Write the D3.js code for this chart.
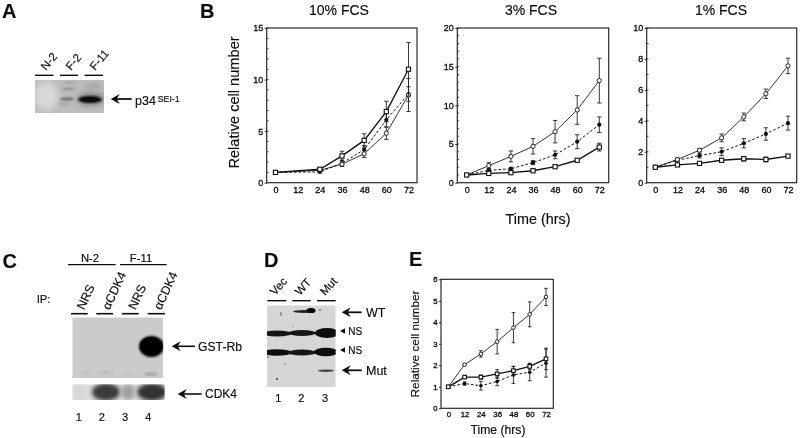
<!DOCTYPE html>
<html><head><meta charset="utf-8">
<script src="https://cdn.jsdelivr.net/npm/d3@7"></script>
<style>
html,body{margin:0;padding:0;background:#fff}
svg{display:block}
text{font-family:"Liberation Sans",Arial,sans-serif;fill:#0a0a0a}
</style></head><body><svg id="c" width="800" height="438"></svg>
<script>
// ---- data ----
const hoursAll = [0,12,24,36,48,60,72];
const hours10 = [0,24,36,48,60,72];
const tickHours = [0,12,24,36,48,60,72];

const fcs10Square = [1,1.3,2.6,4.1,6.9,11.0];
const fcs10SquareErr = [0.05,0.1,0.45,0.65,1.0,2.6];
const fcs10Circle = [1,1.2,1.8,2.8,4.8,8.5];
const fcs10CircleErr = [0.05,0.1,0.2,0.35,0.6,1.6];
const fcs10Filled = [1,1.05,1.9,3.2,6.1,8.6];
const fcs10FilledErr = [0.05,0.1,0.3,0.4,0.7,0.7];

const fcs3Circle = [1,2.2,3.4,4.7,6.6,9.4,13.2];
const fcs3CircleErr = [0.05,0.4,0.7,1.0,1.45,1.85,2.9];
const fcs3Filled = [1,1.6,1.8,2.6,3.6,5.3,7.5];
const fcs3FilledErr = [0.05,0.2,0.2,0.25,0.5,0.9,1.0];
const fcs3Square = [1,1.2,1.3,1.55,2.07,2.9,4.6];
const fcs3SquareErr = [0.05,0.1,0.1,0.1,0.1,0.1,0.5];

const fcs1Circle = [1,1.5,2.1,2.9,4.25,5.75,7.55];
const fcs1CircleErr = [0.02,0.1,0.1,0.25,0.25,0.3,0.5];
const fcs1Filled = [1,1.45,1.75,2.0,2.55,3.15,3.85];
const fcs1FilledErr = [0.02,0.1,0.15,0.25,0.3,0.4,0.45];
const fcs1Square = [1,1.15,1.25,1.45,1.55,1.5,1.72];
const fcs1SquareErr = [0.02,0.05,0.05,0.1,0.15,0.15,0.05];

const partECircle = [1,2.03,2.53,3.1,3.75,4.37,5.18];
const partECircleErr = [0.02,0.05,0.15,0.57,0.7,0.58,0.4];
const partESquare = [1,1.45,1.45,1.6,1.75,1.95,2.3];
const partESquareErr = [0.02,0.05,0.1,0.2,0.2,0.15,0.5];
const partEFilled = [1,1.15,1.05,1.25,1.55,1.68,2.1];
const partEFilledErr = [0.02,0.08,0.2,0.2,0.4,0.4,0.65];

const yTicks10 = [0,5,10,15];
const yTicks3 = [0,5,10,15,20];
const yTicks1 = [0,2,4,6,8,10];
const yTicksE = [0,1,2,3,4,5,6];

// ---- helpers ----
const svg = d3.select("#c");
const defs = svg.append("defs");
[["b03",0.3],["b1",1],["b2",2],["b3",3.2],["b07",0.7]].forEach(([id,s])=>{
  defs.append("filter").attr("id",id).attr("x","-40%").attr("y","-80%").attr("width","180%").attr("height","260%")
    .append("feGaussianBlur").attr("stdDeviation",s);
});
const root = svg.append("g").attr("filter","url(#b03)");
root.append("rect").attr("width",800).attr("height",438).attr("fill","#fff");

function txt(x,y,s,size,opt={}){
  const t = root.append("text").attr("x",x).attr("y",y).attr("font-size",size).text(s)
    .attr("stroke","#0a0a0a").attr("stroke-width",opt.stroke===undefined?0.15:opt.stroke);
  if(opt.anchor) t.attr("text-anchor",opt.anchor);
  if(opt.weight) t.attr("font-weight",opt.weight);
  if(opt.rot!==undefined) t.attr("transform",`rotate(${opt.rot} ${x} ${y})`);
  return t;
}
function hline(x1,x2,y,w=1.3){
  root.append("line").attr("x1",x1).attr("x2",x2).attr("y1",y).attr("y2",y).attr("stroke","#111").attr("stroke-width",w);
}
function arrow(x1,x2,y,w=1.8){ // head at x1
  hline(x1+4,x2,y,w);
  root.append("path").attr("d",`M${x1},${y} L${x1+9},${y-5} L${x1+6},${y} L${x1+9},${y+5} Z`).attr("fill","#111");
}

function plot(o){
  const x = d3.scaleLinear().domain([0,72]).range([o.x0,o.x72]);
  const y = d3.scaleLinear().domain([0,o.ymax]).range([o.bottom,o.top]);
  const g = root.append("g");
  g.append("rect").attr("x",o.left).attr("y",o.top).attr("width",o.right-o.left).attr("height",o.bottom-o.top)
    .attr("fill","none").attr("stroke","#2a2a2a").attr("stroke-width",o.frame||1.2);
  const ax = g.append("g").attr("transform",`translate(0,${o.bottom})`)
    .call(d3.axisBottom(x).tickValues(tickHours).tickFormat(d3.format("d")).tickSize(0).tickPadding(o.xpad));
  ax.select(".domain").remove();
  const ay = g.append("g").attr("transform",`translate(${o.left},0)`)
    .call(d3.axisLeft(y).tickValues(o.yticks).tickFormat(d3.format("d")).tickSize(2).tickPadding(o.ypad));
  ay.select(".domain").remove();
  ay.selectAll("line").attr("stroke","#222");
  [ax,ay].forEach(a=>a.selectAll("text").attr("font-size",o.fs).attr("fill","#0a0a0a").attr("stroke","#0a0a0a").attr("stroke-width",0.3)
     .attr("font-family",'"Liberation Sans",Arial,sans-serif'));
  if(o.minor) g.selectAll(".mt").data(d3.range(0,o.ymax+1e-6,o.minor)).enter().append("line")
    .attr("x1",o.left).attr("x2",o.left+1.8).attr("y1",d=>y(d)).attr("y2",d=>y(d)).attr("stroke","#333").attr("stroke-width",0.9);
  const line = d3.line().x(d=>x(d.t)).y(d=>y(d.v));
  o.series.forEach(s=>{
    const pts = s.vals.map((v,i)=>({t:o.hours[i],v,e:s.errs[i]}));
    g.append("path").attr("d",line(pts)).attr("fill","none").attr("stroke","#111")
      .attr("stroke-width",s.kind==="square"?1.35:s.kind==="filled"?1:0.85)
      .attr("stroke-dasharray",s.kind==="filled"?"2.6,2":null);
    const cap = o.cap;
    pts.forEach(p=>{
      const c = g.append("g").attr("stroke","#222").attr("stroke-width",0.9);
      c.append("line").attr("x1",x(p.t)).attr("x2",x(p.t)).attr("y1",y(p.v-p.e)).attr("y2",y(p.v+p.e));
      [p.v-p.e,p.v+p.e].forEach(v=>c.append("line").attr("x1",x(p.t)-cap).attr("x2",x(p.t)+cap).attr("y1",y(v)).attr("y2",y(v)));
    });
    const r = o.mark;
    pts.forEach(p=>{
      if(s.kind==="square") g.append("rect").attr("x",x(p.t)-r).attr("y",y(p.v)-r).attr("width",2*r).attr("height",2*r).attr("fill","#fff").attr("stroke","#111").attr("stroke-width",1.1);
      else if(s.kind==="circle") g.append("circle").attr("cx",x(p.t)).attr("cy",y(p.v)).attr("r",r).attr("fill","#fff").attr("stroke","#111").attr("stroke-width",0.9);
      else g.append("circle").attr("cx",x(p.t)).attr("cy",y(p.v)).attr("r",r).attr("fill","#111");
    });
  });
}
const base = {top:28,bottom:182.7,xpad:3.5,ypad:1.5,fs:9,cap:2.2,mark:2.1};
plot({...base,left:266.7,right:417,x0:275.5,x72:408.5,ymax:15,yticks:yTicks10,minor:1,hours:hours10,
  series:[{kind:"filled",vals:fcs10Filled,errs:fcs10FilledErr},{kind:"circle",vals:fcs10Circle,errs:fcs10CircleErr},{kind:"square",vals:fcs10Square,errs:fcs10SquareErr}]});
plot({...base,left:457.3,right:608.7,x0:466.7,x72:599.3,ymax:20,yticks:yTicks3,minor:1,hours:hoursAll,
  series:[{kind:"filled",vals:fcs3Filled,errs:fcs3FilledErr},{kind:"circle",vals:fcs3Circle,errs:fcs3CircleErr},{kind:"square",vals:fcs3Square,errs:fcs3SquareErr}]});
plot({...base,left:646.7,right:796.7,x0:655.3,x72:788,ymax:10,yticks:yTicks1,minor:1,hours:hoursAll,
  series:[{kind:"filled",vals:fcs1Filled,errs:fcs1FilledErr},{kind:"circle",vals:fcs1Circle,errs:fcs1CircleErr},{kind:"square",vals:fcs1Square,errs:fcs1SquareErr}]});
plot({top:279.3,bottom:408.3,left:441,right:553.3,x0:448.3,x72:546,ymax:6,yticks:yTicksE,minor:0,hours:hoursAll,xpad:3,ypad:1.5,fs:7.8,cap:1.8,mark:1.8,frame:1.2,
  series:[{kind:"filled",vals:partEFilled,errs:partEFilledErr},{kind:"circle",vals:partECircle,errs:partECircleErr},{kind:"square",vals:partESquare,errs:partESquareErr}]});

// panel letters
[["A",2,18],["B",200,18],["C",2.5,267.5],["D",264,267],["E",409,266]].forEach(d=>txt(d[1],d[2],d[0],20,{weight:"bold",stroke:0.1}));

// B titles
txt(339,15,"10% FCS",14,{anchor:"middle"});
txt(531,15,"3% FCS",14,{anchor:"middle"});
txt(721,15,"1% FCS",14,{anchor:"middle"});
txt(238.5,102.5,"Relative cell number",14.6,{anchor:"middle",rot:-90});
txt(538,224,"Time (hrs)",14.4,{anchor:"middle"});
txt(419,344,"Relative cell number",11.8,{anchor:"middle",rot:-90});
txt(498,434,"Time (hrs)",12.2,{anchor:"middle"});

// ---- blots ----
function blot(x,y,w,h,fill,bands){
  const id="clip"+Math.round(x)+Math.round(y);
  defs.append("clipPath").attr("id",id).append("rect").attr("x",x).attr("y",y).attr("width",w).attr("height",h);
  const g=root.append("g").attr("clip-path",`url(#${id})`);
  g.append("rect").attr("x",x).attr("y",y).attr("width",w).attr("height",h).attr("fill",fill);
  bands.forEach(b=>{
    g.append("ellipse").attr("cx",b[0]).attr("cy",b[1]).attr("rx",b[2]).attr("ry",b[3]).attr("fill",b[4]).attr("filter",`url(#${b[5]})`);
  });
}
// A
blot(35,80,69,33,"#bdbdbd",[
 [46,96,12,14,"#d8d8d8","b3"],[68,89,7,1.2,"#8c8c8c","b1"],[67,99,7,1.6,"#6a6a6a","b1"],[64,104,6,1,"#999","b1"],
 [70,83,7,1.5,"#a5a5a5","b1"],[91,99,14,7,"#8a8a8a","b3"],[93,86,9,3,"#a5a5a5","b2"],[90,99.5,12,3.6,"#111","b1"],[90,99.5,9,2.4,"#0a0a0a","b07"]]);
[[35,53.5],[60,78],[84.5,103]].forEach(d=>hline(d[0],d[1],75.3,1.4));
[["N-2",46,71],["F-2",71,71],["F-11",95,71]].forEach(d=>txt(d[1],d[2],d[0],11.5,{rot:-50}));
arrow(110.7,131.7,99,1.8);
txt(135,105,"p34",12.5);
txt(157.7,101.5,"SEI-1",8.8);

// C
txt(90,261.5,"N-2",11.3,{anchor:"middle"});
txt(141,261.5,"F-11",11.3,{anchor:"middle"});
hline(68,115.7,264.7,1.2); hline(120,166.7,264.7,1.2);
txt(36.7,303,"IP:",11.3);
[[71,87.7],[96.3,113],[122,138.7],[147.7,165]].forEach(d=>hline(d[0],d[1],313.7,1.6));
[["NRS",84,310.5],["αCDK4",109.5,310.5],["NRS",135.5,310.5],["αCDK4",161,310.5]].forEach(d=>txt(d[1],d[2],d[0],12.3,{rot:-65}));
blot(72.3,317.3,91,61,"#cbcbcb",[
 [151.5,346.5,12.5,10.5,"#000","b1"],[151,346,11,9,"#000","b07"],[151,374,7,2,"#aaa","b1"],[105,373,8,1.5,"#bababa","b1"],[128,373,6,1.2,"#bdbdbd","b1"],[85,373,6,1,"#bdbdbd","b1"]]);
blot(72.3,384.3,92.4,15.7,"#dcdcdc",[
 [106,392,14,9,"#3a3a3a","b2"],[152,392,15,9,"#333","b2"],[128,392,7,8,"#a0a0a0","b2"],[80,392,5,7,"#d5d5d5","b2"]]);
[["1",78.7],["2",101.7],["3",125],["4",148.3]].forEach(d=>txt(d[1],421,d[0],11,{anchor:"middle"}));
arrow(171.7,195,346.3,1.6);
txt(198,350.8,"GST-Rb",12.2);
arrow(177.7,201.7,394,1.6);
txt(205,398.3,"CDK4",12);

// D
[[267.3,286.3],[292.3,310.7],[317,335.7]].forEach(d=>hline(d[0],d[1],300.7,1.4));
[["Vec",275,296],["WT",300,296],["Mut",325,296]].forEach(d=>txt(d[1],d[2],d[0],11.5,{rot:-48}));
blot(267,305.3,68.7,82,"#d6d6d6",[
 [277,333.5,15,2.9,"#141414","b07"],[302,333,14,2.9,"#161616","b07"],[327,333,12,5,"#0a0a0a","b07"],
 [277,352.5,15,3.2,"#111","b07"],[302,352.5,14,3,"#161616","b07"],[326,352,12,4.2,"#0a0a0a","b07"],
 [304,311.5,11,1.5,"#222","b07"],[311,310.5,4.5,2.6,"#000","b07"],[326,370.7,8,1.2,"#444","b07"],
 [281,314,0.8,2,"#777","b07"],[277,379,1,1,"#333","b07"],[285,364,0.8,0.8,"#777","b07"],[293,326,0.8,0.8,"#888","b07"],[320,310,1.5,1,"#888","b07"],[268,357,0.8,0.8,"#333","b07"]]);
arrow(341.7,361.7,312.3,1.8);
txt(366,316.8,"WT",12.5);
arrow(341.7,361.7,370.3,1.8);
txt(366,374.8,"Mut",12.5);
[331,350].forEach(y=>root.append("path").attr("d",`M340,${y} L345,${y-2.8} L345,${y+2.8} Z`).attr("fill","#111"));
txt(348.3,335,"NS",10); txt(348.3,354,"NS",10);
[["1",278.3],["2",301.3],["3",325]].forEach(d=>txt(d[1],402.3,d[0],11,{anchor:"middle"}));
</script></body></html>
